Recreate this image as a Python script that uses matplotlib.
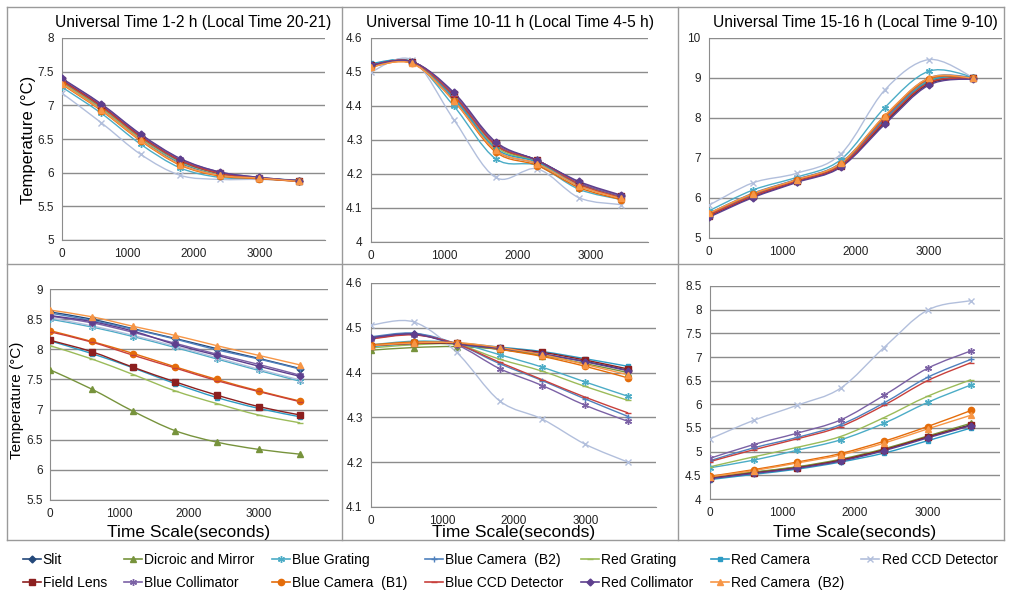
import numpy as np
import matplotlib
matplotlib.use('Agg')
import matplotlib.pyplot as plt
from matplotlib.path import Path
from matplotlib.patches import PathPatch
from matplotlib.lines import Line2D
from matplotlib.ticker import FuncFormatter, MultipleLocator

plt.rcParams['font.family'] = ['Liberation Sans', 'DejaVu Sans']

# series names (legend order, row by row)
names = ['Slit', 'Dicroic and Mirror', 'Blue Grating', 'Blue Camera  (B2)', 'Red Grating',
         'Red Camera', 'Red CCD Detector', 'Field Lens', 'Blue Collimator', 'Blue Camera  (B1)',
         'Blue CCD Detector', 'Red Collimator', 'Red Camera  (B2)']

titles = ['Universal Time 1-2 h (Local Time 20-21)',
          'Universal Time 10-11 h (Local Time 4-5 h)',
          'Universal Time 15-16 h (Local Time 9-10)']

# time samples (seconds)
t_std = [0, 600, 1200, 1800, 2400, 3000, 3600]
t_p2 = [0, 565, 1130, 1700, 2270, 2840, 3410]

# UT 1-2 h
p1 = [
    [7.38, 7.00, 6.55, 6.19, 6.00, 5.92, 5.88],
    [7.35, 6.97, 6.52, 6.17, 5.99, 5.92, 5.88],
    [7.27, 6.88, 6.42, 6.07, 5.93, 5.91, 5.88],
    [7.33, 6.94, 6.49, 6.14, 5.97, 5.92, 5.88],
    [7.34, 6.96, 6.51, 6.16, 5.98, 5.92, 5.88],
    [7.36, 6.98, 6.53, 6.17, 5.99, 5.92, 5.89],
    [7.18, 6.74, 6.27, 5.96, 5.90, 5.90, 5.88],
    [7.37, 6.99, 6.54, 6.18, 5.99, 5.92, 5.87],
    [7.39, 7.01, 6.56, 6.20, 6.01, 5.93, 5.88],
    [7.31, 6.92, 6.47, 6.11, 5.95, 5.91, 5.87],
    [7.36, 6.98, 6.53, 6.18, 5.99, 5.92, 5.88],
    [7.40, 7.02, 6.57, 6.21, 6.01, 5.93, 5.88],
    [7.32, 6.93, 6.48, 6.12, 5.96, 5.92, 5.87],
]
# UT 10-11 h
p2 = [
    [4.520, 4.530, 4.430, 4.290, 4.240, 4.175, 4.135],
    [4.520, 4.530, 4.430, 4.285, 4.235, 4.170, 4.135],
    [4.520, 4.530, 4.400, 4.245, 4.225, 4.155, 4.125],
    [4.515, 4.530, 4.420, 4.270, 4.230, 4.165, 4.130],
    [4.520, 4.530, 4.425, 4.280, 4.235, 4.170, 4.130],
    [4.525, 4.530, 4.425, 4.275, 4.235, 4.170, 4.135],
    [4.500, 4.535, 4.360, 4.190, 4.215, 4.130, 4.110],
    [4.520, 4.530, 4.435, 4.290, 4.240, 4.175, 4.135],
    [4.520, 4.530, 4.435, 4.290, 4.240, 4.175, 4.135],
    [4.515, 4.525, 4.415, 4.265, 4.225, 4.160, 4.125],
    [4.520, 4.530, 4.430, 4.285, 4.240, 4.170, 4.130],
    [4.520, 4.530, 4.440, 4.295, 4.240, 4.178, 4.138],
    [4.515, 4.525, 4.415, 4.270, 4.230, 4.165, 4.128],
]
# UT 15-16 h
p3 = [
    [5.55, 6.03, 6.41, 6.79, 7.88, 8.85, 8.99],
    [5.58, 6.06, 6.43, 6.82, 7.93, 8.90, 9.00],
    [5.68, 6.20, 6.52, 6.96, 8.26, 9.17, 9.03],
    [5.62, 6.12, 6.47, 6.88, 8.05, 9.00, 9.02],
    [5.60, 6.08, 6.45, 6.84, 7.98, 8.94, 9.01],
    [5.58, 6.07, 6.44, 6.83, 7.97, 8.92, 9.03],
    [5.82, 6.38, 6.62, 7.10, 8.70, 9.46, 9.02],
    [5.56, 6.04, 6.42, 6.80, 7.90, 8.87, 8.99],
    [5.60, 6.10, 6.46, 6.86, 8.00, 8.97, 9.00],
    [5.61, 6.10, 6.45, 6.86, 8.03, 8.98, 8.99],
    [5.57, 6.05, 6.42, 6.81, 7.92, 8.88, 8.99],
    [5.52, 6.01, 6.39, 6.77, 7.84, 8.82, 8.98],
    [5.62, 6.11, 6.46, 6.87, 8.06, 9.00, 9.00],
]
# bottom left
p4 = [
    [8.62, 8.50, 8.34, 8.18, 8.01, 7.85, 7.68],
    [7.66, 7.34, 6.97, 6.65, 6.46, 6.34, 6.26],
    [8.50, 8.37, 8.21, 8.03, 7.84, 7.65, 7.47],
    [8.60, 8.48, 8.33, 8.17, 7.99, 7.84, 7.67],
    [8.06, 7.84, 7.58, 7.31, 7.10, 6.91, 6.78],
    [8.14, 7.93, 7.69, 7.43, 7.20, 7.02, 6.88],
    [8.52, 8.39, 8.23, 8.05, 7.86, 7.67, 7.49],
    [8.15, 7.96, 7.70, 7.46, 7.24, 7.05, 6.91],
    [8.55, 8.44, 8.28, 8.10, 7.92, 7.75, 7.57],
    [8.31, 8.13, 7.93, 7.71, 7.50, 7.31, 7.14],
    [8.29, 8.12, 7.90, 7.69, 7.48, 7.30, 7.13],
    [8.56, 8.46, 8.30, 8.08, 7.90, 7.72, 7.55],
    [8.65, 8.54, 8.38, 8.23, 8.06, 7.90, 7.74],
]
# bottom middle
p5 = [
    [4.478, 4.487, 4.465, 4.452, 4.440, 4.425, 4.405],
    [4.450, 4.456, 4.458, 4.452, 4.438, 4.420, 4.400],
    [4.462, 4.470, 4.466, 4.440, 4.412, 4.379, 4.347],
    [4.480, 4.488, 4.464, 4.420, 4.382, 4.341, 4.302],
    [4.455, 4.462, 4.462, 4.430, 4.403, 4.369, 4.338],
    [4.458, 4.465, 4.466, 4.457, 4.447, 4.431, 4.414],
    [4.506, 4.513, 4.445, 4.337, 4.296, 4.240, 4.200],
    [4.460, 4.465, 4.465, 4.455, 4.445, 4.428, 4.408],
    [4.476, 4.485, 4.462, 4.409, 4.371, 4.327, 4.291],
    [4.462, 4.468, 4.466, 4.452, 4.436, 4.414, 4.388],
    [4.475, 4.484, 4.464, 4.423, 4.384, 4.345, 4.310],
    [4.478, 4.486, 4.464, 4.454, 4.442, 4.424, 4.404],
    [4.460, 4.466, 4.467, 4.456, 4.440, 4.418, 4.395],
]
# bottom right
p6 = [
    [4.45, 4.56, 4.67, 4.82, 5.04, 5.31, 5.57],
    [4.46, 4.57, 4.68, 4.84, 5.06, 5.33, 5.60],
    [4.66, 4.82, 5.03, 5.25, 5.60, 6.04, 6.41],
    [4.81, 5.08, 5.30, 5.57, 6.03, 6.57, 6.95],
    [4.68, 4.89, 5.09, 5.32, 5.72, 6.17, 6.52],
    [4.41, 4.52, 4.63, 4.78, 4.97, 5.23, 5.50],
    [5.27, 5.66, 5.98, 6.34, 7.20, 7.99, 8.19],
    [4.44, 4.55, 4.66, 4.82, 5.04, 5.31, 5.56],
    [4.86, 5.15, 5.39, 5.67, 6.19, 6.76, 7.13],
    [4.48, 4.62, 4.78, 4.96, 5.22, 5.53, 5.87],
    [4.79, 5.04, 5.27, 5.53, 5.98, 6.50, 6.88],
    [4.43, 4.54, 4.65, 4.80, 5.02, 5.29, 5.55],
    [4.47, 4.60, 4.76, 4.93, 5.18, 5.48, 5.77],
]

colors = ['#24487A', '#77933C', '#4BACC6', '#4F81BD', '#9BBB59', '#2C9BC4', '#B2BFDC',
          '#8C1F1F', '#7B61A5', '#E46C0A', '#C8403C', '#5E3F8E', '#F79646']
markers = ['D', '^', (6, 2, 0), '+', '_', 's', 'x', 's', (6, 2, 0), 'o', '_', 'D', '^']
msizes = [3.5, 4, 5, 5, 5, 3.5, 4.5, 4.5, 5, 4.5, 5, 3.5, 4.5]

panels = [
    dict(t=t_std, d=p1, ylim=(5, 8), step=0.5, xmax=4000, box=(62, 325, 38, 240)),
    dict(t=t_p2, d=p2, ylim=(4, 4.6), step=0.1, xmax=3780, box=(371, 648, 38, 242)),
    dict(t=t_std, d=p3, ylim=(5, 10), step=1, xmax=4000, box=(709, 1002, 38, 238)),
    dict(t=t_std, d=p4, ylim=(5.5, 9), step=0.5, xmax=4000, box=(50, 328, 289, 500)),
    dict(t=t_std, d=p5, ylim=(4.1, 4.6), step=0.1, xmax=3990, box=(371, 656, 283, 507)),
    dict(t=t_std, d=p6, ylim=(4, 8.5), step=0.5, xmax=4000, box=(710, 1000, 286, 499)),
]

W, H = 1010, 596


def smooth_path(x, y):
    # Excel-style smoothed line: Catmull-Rom segments as cubic Bezier curves
    pts = np.column_stack([x, y]).astype(float)
    verts = [pts[0]]
    codes = [Path.MOVETO]
    n = len(pts)
    for i in range(n - 1):
        p0 = pts[i - 1] if i > 0 else pts[i]
        pa, pb = pts[i], pts[i + 1]
        p3 = pts[i + 2] if i + 2 < n else pb
        verts += [pa + (pb - p0) / 6, pb - (p3 - pa) / 6, pb]
        codes += [Path.CURVE4] * 3
    return Path(verts, codes)


fig = plt.figure(figsize=(W / 100, H / 100), dpi=100)
fig.patch.set_facecolor('white')

fmt = FuncFormatter(lambda v, p: '%g' % round(v, 3))

for k, pn in enumerate(panels):
    l, r, tp, b = pn['box']
    ax = fig.add_axes([l / W, 1 - b / H, (r - l) / W, (b - tp) / H])
    for i in range(len(names)):
        ax.add_patch(PathPatch(smooth_path(pn['t'], pn['d'][i]), fill=False,
                               edgecolor=colors[i], lw=1.0, zorder=3))
        ax.plot(pn['t'], pn['d'][i], ls='none', marker=markers[i], ms=msizes[i],
                color=colors[i], mew=1.0, zorder=4)
    ax.set_xlim(0, pn['xmax'])
    ax.set_ylim(*pn['ylim'])
    ax.set_xticks([0, 1000, 2000, 3000])
    ax.yaxis.set_major_locator(MultipleLocator(pn['step']))
    ax.yaxis.set_major_formatter(fmt)
    ax.grid(axis='y', color='#8c8c8c', lw=1.0)
    ax.set_axisbelow(True)
    for s in ['top', 'right']:
        ax.spines[s].set_visible(False)
    for s in ['left', 'bottom']:
        ax.spines[s].set_color('#8c8c8c')
    ax.tick_params(length=0, labelsize=8.5, pad=6, colors='#222222')
    if k == 3:
        ax.tick_params(axis='y', pad=5)
    if k < 3:
        ax.set_title(titles[k], fontsize=11.2, pad=8)
    else:
        fig.text((l + r) / 2 / W, 1 - 533 / H, 'Time Scale(seconds)', fontsize=12.5,
                 ha='center', va='center')

fig.text(28 / W, 1 - 140 / H, 'Temperature (°C)', fontsize=12, rotation=90,
         ha='center', va='center')
fig.text(17 / W, 1 - 400 / H, 'Temperature (°C)', fontsize=11, rotation=90,
         ha='center', va='center')

# panel frame lines
frame = dict(color='#9a9a9a', lw=1.0)
for xv in [7, 342, 678, 1004]:
    fig.add_artist(Line2D([xv / W, xv / W], [1 - 540 / H, 1 - 7 / H], **frame))
for yv in [7, 264, 540]:
    fig.add_artist(Line2D([7 / W, 1004 / W], [1 - yv / H, 1 - yv / H], **frame))

# legend: reorder so column-major filling reproduces the row layout
handles = [Line2D([], [], color=colors[i], marker=markers[i], ms=msizes[i], lw=1.2)
           for i in range(len(names))]
order = [0, 7, 1, 8, 2, 9, 3, 10, 4, 11, 5, 12, 6]
fig.legend([handles[i] for i in order], [names[i] for i in order],
           loc='upper center', bbox_to_anchor=(0.505, 1 - 547 / H), ncol=7, frameon=False,
           fontsize=10, handlelength=1.3, handletextpad=0.15, columnspacing=1.25,
           labelspacing=0.65, borderaxespad=0)

fig.savefig('out.png', dpi=100, facecolor='white')
